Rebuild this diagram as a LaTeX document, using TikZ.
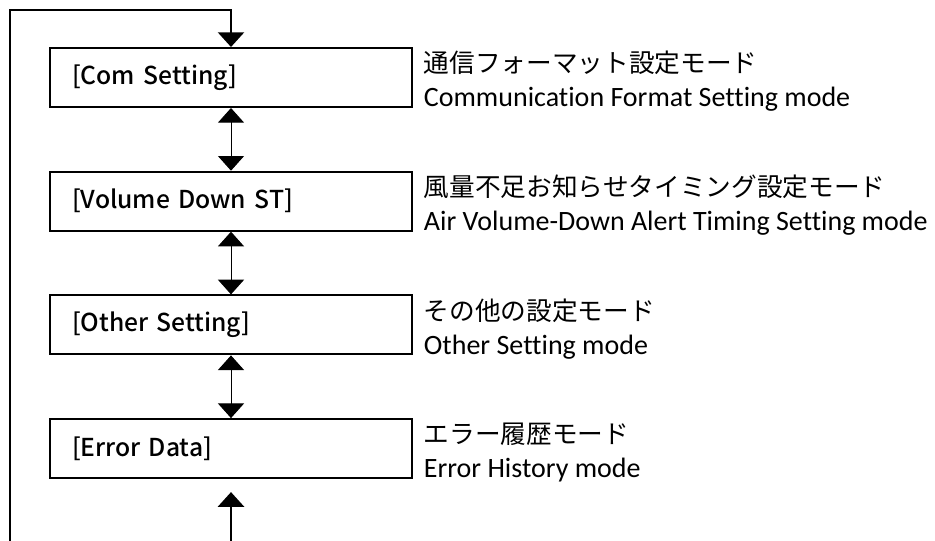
\documentclass[tikz,border=0pt]{standalone}
\usepackage{fontspec}
\setmainfont{Carlito}[Ligatures=NoCommon]
\newfontfamily\jpfont{Noto Sans CJK JP}[BoldFont={Noto Sans CJK JP Medium}]
\usetikzlibrary{arrows.meta}

\newcommand\boxx{231}
\newcommand\boxsep{123.7}
\newcommand\firsty{-77.5}

\begin{document}
\begin{tikzpicture}[x=0.75pt,y=0.75pt,
    modebox/.style={draw,line width=1.5pt,minimum width=271.5pt,minimum height=44.25pt,
      inner xsep=16.5pt,text width=238.5pt,align=left,font=\jpfont\bfseries\fontsize{18.5}{20}\selectfont},
    jplabel/.style={anchor=west,inner sep=0pt,xshift=8pt,yshift=-12pt,font=\jpfont\fontsize{19.25}{20}\selectfont},
    enlabel/.style={anchor=base west,inner sep=0pt,xshift=8pt,yshift=1pt,font=\fontsize{21}{22}\selectfont},
    tip/.tip={Triangle[width=19.5pt,length=11pt]},
    linkarrow/.style={line width=0.75pt,tip-tip},
    looparrow/.style={line width=1.75pt,-tip}]
    \useasboundingbox (0,0) rectangle (935,-541);

    % mode boxes
    \node[modebox] (com) at (\boxx,\firsty) {[Com Setting]};
    \node[modebox] (vol) at (\boxx,\firsty-\boxsep) {[Volume Down ST]};
    \node[modebox] (oth) at (\boxx,\firsty-2*\boxsep) {[Other Setting]};
    \node[modebox] (err) at (\boxx,\firsty-3*\boxsep) {[Error Data]};

    % labels
    \node[jplabel] (comjp) at (com.north east) {通信フォーマット設定モード};
    \node[enlabel] (comen) at (com.south east) {Communication Format Setting mode};
    \node[jplabel] (voljp) at (vol.north east) {風量不足お知らせタイミング設定モード};
    \node[enlabel] (volen) at (vol.south east) {Air Volume-Down Alert Timing Setting mode};
    \node[jplabel] (othjp) at (oth.north east) {その他の設定モード};
    \node[enlabel] (othen) at (oth.south east) {Other Setting mode};
    \node[jplabel] (errjp) at (err.north east) {エラー履歴モード};
    \node[enlabel] (erren) at (err.south east) {Error History mode};

    % connectors
    \draw[linkarrow] (com.south) -- (vol.north);
    \draw[linkarrow] (vol.south) -- (oth.north);
    \draw[linkarrow] (oth.south) -- (err.north);

    \coordinate (loopbot) at (10,-541);
    \coordinate (looptop) at (10,-10);
    \coordinate (entry) at (\boxx,-541);
    \draw[looparrow] (loopbot) -- (looptop) -| (com.north);
    \draw[looparrow,shorten >=9.75pt] (entry) -- (err.south);
\end{tikzpicture}
\end{document}
